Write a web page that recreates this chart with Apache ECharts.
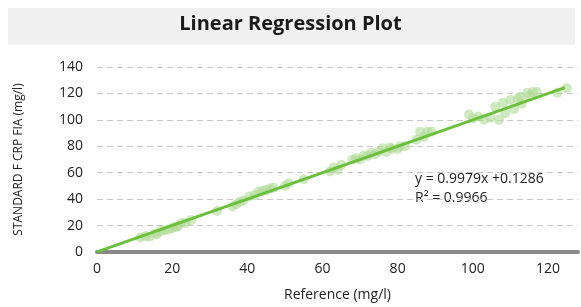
<!DOCTYPE html>
<html><head><meta charset="utf-8">
<script src="https://cdn.jsdelivr.net/npm/echarts@6/dist/echarts.min.js"></script>
<style>html,body{margin:0;padding:0;background:#fff}#c{width:581px;height:307px}</style>
</head><body><div id="c"></div>
<script>
var refX = [11.5,13,14,15.5,16,17,18,19,20,21,21.5,22.5,23.5,25,32,36,37,38,39,40.5,42,43,44,45,46,47,50,51,55,62,63,64,65,68,69,70,71,72,73,74,75,76,77,78,78.5,80,80.7,82,85,86,87,88,89,99,100,101.5,103,104.7,106,107,108,108.6,110,111,112,112.6,113,114.5,115,116,117,122.5,125];
var fiaY = [11,12,11.5,14,13.5,16,16.5,17,18,19,19.5,22,22,24,31,34.5,36,38,39,42,43,45.6,46,47,48,48.6,50,52,55,61,64,62,66,70,71,70,73,72.6,75,74,76,78.6,75.6,79,78,78,80,80,85,91,87,91,91,104,101,102.5,100,101.6,110,100,113,105,115,108,116,117.5,112,120.5,118,121,121,120.5,124];
var fitX = [0,124.5];
var fitY = [0.1286,124.37];
var xTicks = [0,20,40,60,80,100,120];
var yTicks = [0,20,40,60,80,100,120,140];
var eqText = 'y = 0.9979x +0.1286';
var r2Text = 'R\u00b2 = 0.9966';

var pts = refX.map(function(x,i){return [x,fiaY[i]];});
var fit = fitX.map(function(x,i){return [x,fitY[i]];});
var font = '"Open Sans", "Noto Sans", sans-serif';
var chart = echarts.init(document.getElementById('c'), null, {renderer:'canvas'});
chart.setOption({
  animation:false,
  backgroundColor:'#fff',
  graphic:[
    {type:'rect', left:8, top:8, shape:{width:567,height:37}, style:{fill:'#f0f0f0'}, z:-1},
    {type:'text', left:'center', top:14, style:{text:'Linear Regression Plot', font:'bold 20px '+font, fill:'#1a1a1a'}},
    {type:'text', left:415, top:172, style:{text:eqText, font:'14px '+font, fill:'#222'}},
    {type:'text', left:415, top:191, style:{text:r2Text, font:'14px '+font, fill:'#222'}}
  ],
  grid:{left:97, right:3, top:67, bottom:53},
  xAxis:{type:'value', min:0, max:128, interval:20,
    name:'Reference (mg/l)', nameLocation:'middle', nameGap:36,
    nameTextStyle:{fontFamily:font, fontSize:14, color:'#222'},
    axisLine:{show:true, lineStyle:{color:'#888', width:4}},
    axisTick:{show:false}, splitLine:{show:false},
    axisLabel:{fontFamily:font, fontSize:14, color:'#222', margin:10,
      formatter:function(v){return xTicks.indexOf(v)>=0?String(v):'';}}
  },
  yAxis:{type:'value', min:0, max:140, interval:20,
    name:'STANDARD F CRP FIA (mg/l)', nameLocation:'middle', nameGap:72,
    nameTextStyle:{fontFamily:font, fontSize:12, color:'#222'},
    axisLine:{show:false}, axisTick:{show:false},
    splitLine:{show:true, lineStyle:{color:'#c8c8c8', type:[6,4], width:1}},
    axisLabel:{fontFamily:font, fontSize:14, color:'#222', margin:14,
      formatter:function(v){return yTicks.indexOf(v)>=0?String(v):'';}}
  },
  series:[
    {type:'scatter', data:pts, symbolSize:10, itemStyle:{color:'rgba(175,218,150,0.75)'}, z:2},
    {type:'line', data:fit, showSymbol:false, symbol:'none', lineStyle:{color:'#6cbf3c', width:3}, z:3}
  ]
});
</script></body></html>
